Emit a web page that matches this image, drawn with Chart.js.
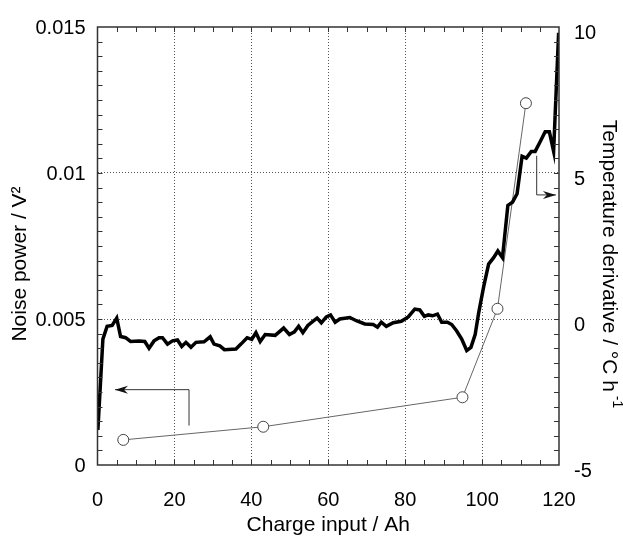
<!DOCTYPE html>
<html>
<head>
<meta charset="utf-8">
<script src="https://cdn.jsdelivr.net/npm/chart.js@4/dist/chart.umd.min.js"></script>
<style>
  html, body { margin: 0; padding: 0; background: #fff; }
  #wrap { width: 623px; height: 541px; }
</style>
</head>
<body>
<div id="wrap"><canvas id="chart" width="623" height="541"></canvas></div>
<script>
// noise power vs charge input (thick line)
const chargeNoise = [0.1, 1.4, 2.5, 3.8, 5.0, 6.0, 7.3, 8.6, 10.8, 12.3, 13.4, 14.7, 16.0, 16.9, 18.2, 19.5,
  20.8, 21.9, 23.0, 24.3, 25.6, 27.7, 29.3, 30.3, 31.8, 33.0, 36.0, 37.3, 38.9, 40.1, 41.2, 42.3, 43.6,
  46.2, 48.4, 49.9, 51.2, 52.3, 53.4, 54.7, 56.0, 57.1, 58.2, 59.5, 60.6, 61.8, 63.0, 65.6, 67.3, 69.5,
  71.7, 72.8, 73.8, 75.1, 76.9, 79.0, 80.8, 82.5, 83.8, 85.0, 86.0, 87.1, 88.4, 89.5, 91.0, 92.1, 93.4,
  94.7, 96.0, 97.1, 98.2, 99.1, 100.4, 101.7, 103.0, 104.1, 105.3, 106.7, 107.9, 109.1, 110.4, 111.5,
  112.8, 113.8, 115.1, 116.4, 117.5, 118.6, 119.9];
const noisePower = [0.0012, 0.00431, 0.00475, 0.00478, 0.00503, 0.0044, 0.00436, 0.00423, 0.00425, 0.00423,
  0.0040, 0.00425, 0.00436, 0.00436, 0.00414, 0.00425, 0.00428, 0.00406, 0.0042, 0.00403, 0.0042, 0.00422,
  0.00439, 0.00414, 0.00408, 0.00395, 0.00397, 0.00414, 0.00436, 0.0043, 0.00453, 0.00423, 0.00447,
  0.00444, 0.00469, 0.00447, 0.00456, 0.00475, 0.00453, 0.00478, 0.00492, 0.00503, 0.00487, 0.00507,
  0.00514, 0.00489, 0.005, 0.00505, 0.00494, 0.00483, 0.00481, 0.00472, 0.00489, 0.00475, 0.00487,
  0.00492, 0.00507, 0.00534, 0.00531, 0.00509, 0.00514, 0.00511, 0.00517, 0.00489, 0.00489, 0.00481,
  0.00459, 0.00431, 0.00392, 0.00403, 0.00447, 0.0052, 0.0061, 0.00688, 0.0071, 0.00733, 0.0071,
  0.00889, 0.009, 0.00929, 0.01057, 0.01051, 0.01074, 0.01074, 0.01107, 0.01141, 0.01141, 0.01074, 0.0148];

// temperature derivative (thin line with circles)
const chargeTemp = [6.7, 43.1, 94.9, 104.0, 111.4];
const tempDeriv = [-4.14, -3.69, -2.68, 0.35, 7.39];

// tick labels
const chargeTicks = [0, 20, 40, 60, 80, 100, 120];
const noiseTicks = [0, 0.005, 0.01, 0.015];
const tempTicks = [-5, 0, 5, 10];

// arrow annotations, [charge, value] on the axis they point to
const leftArrow = [[23.8, 0.00135], [23.8, 0.00258], [4.55, 0.00258]];
const rightArrow = [[114.2, 5.59], [114.2, 4.25], [119.2, 4.25]];

const FONT = 'Liberation Sans, Arial, Helvetica, sans-serif';
const tickFont = { family: FONT, size: 20 };
const TITLE_SIZE = 21;

function arrowHead(ctx, x0, y0, x1, y1) {
  const a = Math.atan2(y1 - y0, x1 - x0);
  ctx.save();
  ctx.translate(x1, y1);
  ctx.rotate(a);
  ctx.beginPath();
  ctx.moveTo(0, 0);
  ctx.lineTo(-13, -4);
  ctx.lineTo(-9, 0);
  ctx.lineTo(-13, 4);
  ctx.closePath();
  ctx.fill();
  ctx.restore();
}

const decorPlugin = {
  id: 'decor',
  afterDatasetsDraw(chart) {
    const { ctx, chartArea: a, scales } = chart;
    const { x, y, y2 } = scales;
    ctx.save();
    // frame
    ctx.strokeStyle = '#333';
    ctx.lineWidth = 1.5;
    ctx.strokeRect(a.left, a.top, a.right - a.left, a.bottom - a.top);
    // inward minor ticks
    ctx.lineWidth = 1;
    ctx.beginPath();
    for (let v = 5; v < 120; v += 5) {
      const px = Math.round(x.getPixelForValue(v)) + 0.5;
      ctx.moveTo(px, a.bottom); ctx.lineTo(px, a.bottom - 5);
      ctx.moveTo(px, a.top); ctx.lineTo(px, a.top + 5);
    }
    for (let i = 1; i < 30; i++) {
      const py = Math.round(y.getPixelForValue(i * 0.0005)) + 0.5;
      ctx.moveTo(a.left, py); ctx.lineTo(a.left + 5, py);
    }
    for (let i = 1; i < 30; i++) {
      const py = Math.round(y2.getPixelForValue(-5 + i * 0.5)) + 0.5;
      ctx.moveTo(a.right, py); ctx.lineTo(a.right - 5, py);
    }
    ctx.stroke();

    // arrows
    ctx.strokeStyle = '#333';
    ctx.fillStyle = '#111';
    ctx.lineWidth = 1;
    [[leftArrow, y], [rightArrow, y2]].forEach(([path, sc]) => {
      const pts = path.map(p => [x.getPixelForValue(p[0]), sc.getPixelForValue(p[1])]);
      ctx.beginPath();
      pts.forEach((p, i) => i ? ctx.lineTo(p[0], p[1]) : ctx.moveTo(p[0], p[1]));
      ctx.stroke();
      const n = pts.length;
      arrowHead(ctx, pts[n - 2][0], pts[n - 2][1], pts[n - 1][0], pts[n - 1][1]);
    });

    // y axis titles
    const midY = (a.top + a.bottom) / 2 + 18;
    ctx.fillStyle = '#000';
    ctx.textBaseline = 'middle';
    ctx.textAlign = 'center';
    ctx.font = TITLE_SIZE + 'px ' + FONT;
    ctx.save();
    ctx.translate(20, midY);
    ctx.rotate(-Math.PI / 2);
    ctx.fillText('Noise power / V²', 0, 0);
    ctx.restore();

    ctx.save();
    ctx.translate(609, midY);
    ctx.rotate(Math.PI / 2);
    const main = 'Temperature derivative / °C h';
    const sup = ' -1';
    ctx.font = TITLE_SIZE + 'px ' + FONT;
    const wMain = ctx.measureText(main).width;
    ctx.font = '14px ' + FONT;
    const wSup = ctx.measureText(sup).width;
    const start = -(wMain + wSup) / 2;
    ctx.textAlign = 'left';
    ctx.font = TITLE_SIZE + 'px ' + FONT;
    ctx.fillText(main, start, 0);
    ctx.font = '14px ' + FONT;
    ctx.fillText(sup, start + wMain, -8);
    ctx.restore();

    ctx.restore();
  }
};

const gridColor = (edges) => (c) => (c.tick && edges.includes(c.tick.value)) ? 'rgba(0,0,0,0)' : '#555';

new Chart(document.getElementById('chart'), {
  type: 'line',
  data: {
    datasets: [
      {
        data: chargeNoise.map((v, i) => ({ x: v, y: noisePower[i] })),
        yAxisID: 'y',
        borderColor: '#000',
        borderWidth: 3.5,
        pointRadius: 0,
        tension: 0,
        order: 0
      },
      {
        data: chargeTemp.map((v, i) => ({ x: v, y: tempDeriv[i] })),
        yAxisID: 'y2',
        borderColor: '#666',
        borderWidth: 1,
        pointRadius: 5.5,
        pointBorderColor: '#444',
        pointBackgroundColor: '#fff',
        pointBorderWidth: 1,
        tension: 0,
        order: 1
      }
    ]
  },
  options: {
    responsive: false,
    animation: false,
    layout: { padding: { top: 19, left: 0, right: 0, bottom: 0 } },
    plugins: { legend: { display: false }, tooltip: { enabled: false } },
    scales: {
      x: {
        type: 'linear',
        min: 0, max: 120,
        afterBuildTicks: s => { s.ticks = chargeTicks.map(v => ({ value: v })); },
        afterFit: s => { s.height = 76; },
        grid: { color: gridColor([0, 120]), lineWidth: 1, drawTicks: false },
        border: { display: false, dash: [1, 2] },
        ticks: { font: tickFont, color: '#000', padding: 23, maxRotation: 0 },
        title: {
          display: true, text: 'Charge input / Ah', color: '#000',
          font: { family: FONT, size: TITLE_SIZE }, padding: { top: 0, bottom: 3 }
        }
      },
      y: {
        position: 'left',
        min: 0, max: 0.015,
        afterBuildTicks: s => { s.ticks = noiseTicks.map(v => ({ value: v })); },
        afterFit: s => { s.width = 97.5; },
        grid: { color: gridColor([0, 0.015]), lineWidth: 1, drawTicks: false },
        border: { display: false, dash: [1, 2] },
        ticks: { font: tickFont, color: '#000', padding: 12, labelOffset: 1,
          callback: v => String(+v.toFixed(3)) }
      },
      y2: {
        position: 'right',
        min: -5, max: 10,
        afterBuildTicks: s => { s.ticks = tempTicks.map(v => ({ value: v })); },
        afterFit: s => { s.width = 623 - 559; },
        grid: { display: false, drawTicks: false },
        border: { display: false },
        ticks: { font: tickFont, color: '#000', padding: 15, labelOffset: 6 }
      }
    }
  },
  plugins: [decorPlugin]
});
</script>
</body>
</html>
